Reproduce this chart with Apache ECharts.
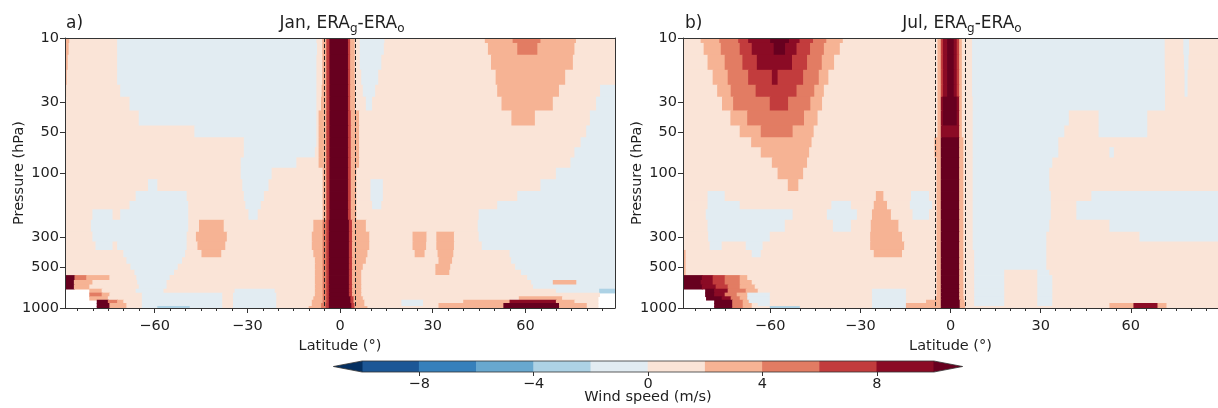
<!DOCTYPE html>
<html><head><meta charset="utf-8">
<script src="https://cdn.jsdelivr.net/npm/echarts@6/dist/echarts.min.js"></script>
<style>html,body{margin:0;padding:0;background:#fff}#c{width:1218px;height:408px}</style>
</head><body><div id="c"></div>
<script>
// ---------------- data ----------------
const pressureLevels = [10,12,15,20,25,30,40,50,60,70,85,100,125,150,175,200,250,300,350,400,450,500,550,600,650,700,750,800,850,900,950,1000];
// each row: "value:untilLatitude" runs from -89 to 89 (W = no data)
const janRows = [
"3:-87.5 1:-72 -1:-7.5 1:-5.6 3:-4.3 7:-3.3 11:2.7 7:3.4 3:4.9 1:6.5 -1:14.5 1:47 3:56 5:65 3:76.5 1:89",
"3:-87.7 1:-72 -1:-7.3 1:-5.6 3:-4.3 7:-3.3 11:2.7 7:3.4 3:4.9 1:6.5 -1:14.3 1:48 3:57.5 5:64 3:76 1:89",
"3:-88 1:-72 -1:-7.5 1:-5.6 3:-4.3 7:-3.3 11:2.7 7:3.4 3:4.9 1:6.5 -1:13.5 1:49 3:75.5 1:89",
"3:-88.3 1:-72 -1:-7.5 1:-5.6 3:-4.3 7:-3.3 11:2.7 7:3.4 3:4.9 1:7 -1:12.5 1:50.5 3:73 1:89",
"3:-88.5 1:-71 -1:-7.5 1:-5.8 3:-4.3 7:-3.3 11:2.7 7:3.4 3:5 1:7.5 -1:11.5 1:51 3:71 1:84.3 -1:89",
"1:-68 -1:-7.5 1:-6 3:-4.3 7:-3.3 11:2.7 7:3.4 3:5 1:8.5 -1:10.5 1:52.4 3:69 1:83 -1:89",
"1:-65 -1:-7.5 1:-6.8 3:-4.3 7:-3.3 11:2.7 7:3.6 3:6.3 1:55.6 3:63.2 1:81 -1:89",
"1:-47 -1:-7.5 1:-6.8 3:-4.3 7:-3.3 11:2.7 7:3.6 3:6.3 1:79.8 -1:89",
"1:-31 -1:-7.5 1:-6.8 3:-4.3 7:-3.3 11:2.7 7:3.6 3:6.3 1:78 -1:89",
"1:-31 -1:-8 1:-6.8 3:-4.3 7:-3.3 11:2.7 7:3.6 3:6.3 1:76 -1:89",
"1:-32 -1:-14 1:-6.8 3:-4.3 7:-3.3 11:2.7 7:3.6 3:6.3 1:74.7 -1:89",
"1:-32 -1:-22 1:-5.5 3:-4.3 7:-3.3 11:2.7 7:3.6 3:5.4 1:70 -1:89",
"1:-62 -1:-59 1:-31.5 -1:-23 1:-5.5 3:-4.3 7:-3.3 11:2.7 7:3.6 3:5.4 1:10 -1:14 1:65 -1:89",
"1:-66 -1:-49.5 1:-31 -1:-24.5 1:-5.5 3:-4.3 7:-3.3 11:2.7 7:3.6 3:5.4 1:10 -1:14 1:57.5 -1:89",
"1:-68 -1:-49 1:-30.5 -1:-25.5 1:-5.5 3:-4.3 7:-3.3 11:2.7 7:3.6 3:5.4 1:10.5 -1:13.5 1:51 -1:89",
"1:-80 -1:-73.5 1:-71 -1:-49 1:-29.5 -1:-26.5 1:-5.5 3:-4.3 7:-3.3 11:2.7 7:3.6 3:5.4 1:45 -1:89",
"1:-80.5 -1:-49 1:-45.5 3:-37.5 1:-8.5 3:-5.5 5:-4.3 7:-3.5 11:3 7:4 3:8.5 1:44.7 -1:89",
"1:-80 -1:-49.5 1:-46.5 3:-36.5 1:-9 3:-5.5 5:-4.3 7:-3.5 11:3 7:4 3:9.6 1:23.6 3:28.1 1:31.3 3:37 1:45 -1:89",
"1:-79 -1:-73.5 1:-72 -1:-49.5 1:-46 3:-37 1:-9 3:-5.5 5:-4.3 7:-3.5 11:3 7:4 3:9.6 1:23.6 3:28 1:31.3 3:37 1:46 -1:89",
"1:-70 -1:-50 1:-44.7 3:-38.3 1:-8.5 3:-5.5 5:-4.3 7:-3.5 11:3 7:4 3:9 1:24.3 3:27.5 1:31.7 3:36.8 1:55 -1:89",
"1:-69 -1:-51 1:-8 3:-5.5 5:-4.3 7:-3.5 11:3 7:4 3:8.5 1:32 3:36.4 1:55.5 -1:89",
"1:-67.7 -1:-52.4 1:-8 3:-5.5 5:-4.3 7:-3.5 11:3 7:4 3:7.5 1:31 3:35.8 1:56.8 -1:89",
"1:-66.4 -1:-53.6 1:-8 3:-5.5 5:-4.3 7:-3.5 11:3 7:4 3:7 1:31 3:35.5 1:58.7 -1:89",
"11:-85.8 5:-82 3:-74.5 1:-65.8 -1:-55 1:-8 3:-5.5 5:-4.3 7:-3.5 11:3 7:4 3:7 1:60.7 -1:89",
"11:-86 3:-80 1:-65.5 -1:-56 1:-8 3:-5.5 5:-4.3 7:-3.5 11:3 7:4 3:7 1:62 -1:69 3:76.6 -1:89",
"11:-86 3:-81 1:-65 -1:-56 1:-8 3:-5.5 5:-4.3 7:-3.5 11:3 7:4 3:7 1:62.6 -1:89",
"W:-81 3:-77 1:-66 -1:-57 1:-34 -1:-21 1:-8 3:-5.5 5:-4.3 7:-3.5 11:3 7:4 3:7 1:70 -1:84 -3:89",
"W:-81 5:-77 3:-74.5 1:-64 -1:-38 1:-34.5 -1:-20.5 1:-8 3:-5.5 5:-4.3 7:-3.5 11:3 7:4 3:7 1:84 W:89",
"W:-81 3:-75 1:-64 -1:-38 1:-34.5 -1:-20.5 1:-8.5 3:-5.5 5:-4.3 7:-3.5 11:3.5 7:4.5 3:7.5 1:58 3:72 1:83.5 W:89",
"W:-78.6 11:-75 5:-72 3:-70 1:-64 -1:-38 1:-34.5 -1:-20.5 1:-9 3:-5.5 5:-4.3 7:-3.5 11:3.5 7:4.5 3:8 1:20 -1:27 1:40 3:55 9:70 3:76 1:83.5 W:89",
"W:-78.6 11:-74.5 3:-69 1:-64 -1:-38 1:-34.5 -1:-20.5 1:-9 3:-6 5:-4.5 7:-3.5 11:3.8 7:4.8 3:8 1:20 -1:27 1:32 3:53 11:71 3:80 1:83.5 W:89",
"W:-78.6 11:-74.5 3:-69 1:-64 -1:-59 -3:-48.5 -1:-38 1:-34.5 -1:-20.5 1:-10 3:-6 5:-4.5 7:-3.5 11:3.8 7:4.8 3:9 1:32 3:53 11:71 3:80 1:83.5 W:89"
];
const julRows = [
"1:-83 3:-76.8 5:-70.5 7:-67.2 9:-59.9 11:-53.6 9:-50.1 7:-45.6 5:-41.2 3:-35.7 1:-4.2 3:-3.1 7:-2.4 9:-1 11:1.2 9:2.2 7:3 3:3.9 1:7.3 -1:71.4 1:77.6 -1:79.5 1:89",
"1:-82 3:-76.3 5:-70 7:-66 9:-58.7 11:-54.9 9:-51.1 7:-46.6 5:-42 3:-36.7 1:-4.2 3:-3.1 7:-2.4 9:-1 11:1.2 9:2.2 7:3 3:3.9 1:7.3 -1:71.4 1:77.6 -1:79.5 1:89",
"1:-80.7 3:-75 5:-69.1 7:-64.3 9:-52.6 7:-47.6 5:-42.7 3:-38.6 1:-4.2 3:-3.1 7:-2.4 9:-1 11:1.2 9:2.2 7:3 3:3.9 1:7.3 -1:71.4 1:77.8 -1:79.3 1:89",
"1:-79 3:-74 5:-67.2 7:-59.3 9:-57.4 7:-48.9 5:-43.7 3:-40.5 1:-4.2 3:-3.1 7:-2.4 9:-1 11:1.2 9:2.2 7:3 3:3.9 1:7.3 -1:71.5 1:78 -1:79 1:89",
"1:-77.5 3:-73 5:-64.7 7:-51.1 5:-45.2 3:-42 1:-4.2 3:-3.1 7:-2.4 9:-1 11:1.2 9:2.2 7:3 3:3.9 1:7.3 -1:71.5 1:78 -1:79 1:89",
"1:-75.9 3:-72.2 5:-60 7:-53.9 5:-46.5 3:-42.6 1:-4.2 3:-3.1 9:-2.4 11:2.2 9:3 3:3.9 1:7.5 -1:71.5 1:89",
"1:-73.1 3:-67.5 5:-48.6 3:-44.1 1:-4.2 3:-3.1 9:-2.4 11:2.2 9:3 3:3.9 1:7.5 -1:39.5 1:49.4 -1:65.6 1:89",
"1:-70 3:-63 5:-52.4 3:-45.4 1:-4.2 3:-3.1 9:3 3:3.9 1:7.5 -1:38 1:49.4 -1:65.6 1:89",
"1:-66.2 3:-46.1 1:-5.2 3:-3.1 11:3 3:4.4 1:7.5 -1:36 1:89",
"1:-63 3:-46.9 1:-5.2 3:-3.1 11:3 3:4.4 1:7.5 -1:36 1:53 -1:54.5 1:89",
"1:-59.3 3:-47.6 1:-4.5 3:-3.1 11:3 3:4.4 1:7.5 -1:34 1:89",
"1:-57.4 3:-48.9 1:-4.5 3:-3.1 11:3 3:4.4 1:7.5 -1:33 1:89",
"1:-54 3:-50.5 1:-4.5 3:-3.1 11:3 3:4.4 1:7.5 -1:33 1:89",
"1:-80.7 -1:-75 1:-24.7 3:-22.2 1:-13 -1:-7 1:-4.5 3:-3.1 11:3 3:4.4 1:7.5 -1:33.5 1:47 -1:89",
"1:-80.7 -1:-70 1:-39.5 -1:-33 1:-25.4 3:-21 1:-13.4 -1:-6 1:-4.5 3:-3.1 11:3 3:4.4 1:7.5 -1:33.5 1:42 -1:89",
"1:-81.3 -1:-52.4 1:-41 -1:-31 1:-26 3:-19.7 1:-12.5 -1:-7 1:-4.5 3:-3.1 11:3 3:4.4 1:7.5 -1:33.5 1:42 -1:89",
"1:-80.7 -1:-55 1:-39 -1:-33 1:-26.4 3:-17.2 1:-4.5 3:-3.1 11:3 3:4.4 1:7.5 -1:33 1:53 -1:89",
"1:-80.5 -1:-60 1:-26.6 3:-16 1:-4.5 3:-3.1 11:3 3:4.4 1:7.5 -1:32 1:63 -1:89",
"1:-80 -1:-76 1:-68 -1:-62.4 1:-26.6 3:-15.3 1:-4.5 3:-3.1 11:3 3:4.4 1:7.5 -1:32 1:89",
"3:-88 1:-66 -1:-63 1:-25.4 3:-16 1:-4.5 3:-3.1 11:3 3:4.4 1:8 -1:32 1:89",
"3:-88 1:-4.5 3:-3.1 11:3 3:4.4 1:8 -1:32 1:89",
"3:-88 1:-4.5 3:-3.1 11:3 3:4.4 1:8 -1:32 1:89",
"3:-88 1:-4.5 3:-3.1 11:3 3:4.4 1:8 -1:18 1:29 -1:33 1:89",
"11:-82.6 9:-79 7:-75 5:-70 3:-67.5 1:-4.5 3:-3.1 11:3 3:4.4 1:8 -1:18 1:29 -1:34 1:89",
"11:-83 9:-79 7:-75 5:-70 3:-66 1:-4.5 3:-3.1 11:3 3:4.4 1:8 -1:18 1:29 -1:34 1:89",
"11:-82.6 9:-78 7:-74 5:-70 3:-65 1:-4.5 3:-3.1 11:3 3:4.4 1:8 -1:18 1:29 -1:34 1:89",
"W:-81.5 11:-78.5 9:-74 5:-68 3:-64 1:-26 -1:-14.7 1:-4.5 3:-3.1 11:3 3:4.4 1:8 -1:18 1:29 -1:34 1:89",
"W:-81.5 11:-78.5 9:-75 5:-71 3:-67.5 -1:-60 1:-26 -1:-14.7 1:-4.5 3:-3.1 11:3 3:4.4 1:8 -1:18 1:29 -1:34 1:89",
"W:-81.2 11:-76 9:-73 5:-70 3:-67.5 -1:-60 1:-26 -1:-14.7 1:-4.8 3:-3.1 11:3 3:4.5 1:8 -1:18 1:29 -1:34 1:89",
"W:-78.5 11:-72.5 5:-69 3:-67 -1:-60 1:-26 -1:-14.7 1:-8 3:-3.1 11:3.2 3:4.8 1:8 -1:18 1:29 -1:34 1:89",
"W:-78.5 11:-72.5 5:-69 3:-66 1:-64 -1:-60 1:-26 -1:-14.7 3:-3.1 11:3.2 3:5 1:8 -1:18 1:29 -1:34 1:53 3:61 9:69 3:72 1:89",
"W:-78.5 11:-72.5 5:-69 3:-66 1:-60 -3:-50 1:-26 -1:-14.7 3:-3.1 11:3.2 3:5 1:53 3:61 9:69 3:72 1:89"
];
const colorLevels = [-10,-8,-6,-4,-2,0,2,4,6,8,10];
const binColors = ['#1c5796','#3680bb','#68a8cf','#add2e5','#e2ecf2','#fae4d7','#f6b394','#e27c63','#c23c3d','#8b0b25'];
const underColor = '#053061', overColor = '#67001f';
const xTicks = [-60,-30,0,30,60];
const xMinorTicks = [-85,-80,-75,-70,-65,-55,-50,-45,-40,-35,-25,-20,-15,-10,-5,5,10,15,20,25,35,40,45,50,55,65,70,75,80,85];
const yTicks = [10,30,50,100,300,500,1000];
const cbTicks = [-8,-4,0,4,8];
const dashLats = [-5,5];
const latRange = [-89, 89];

// ---------------- helpers ----------------
const FONT = 'DejaVu Sans';
const TXT = '#1f1f1f', AX = '#333';
const FS = 14.5;
function parseRow(str) {
  const segs = []; let start = latRange[0];
  str.trim().split(/\s+/).forEach(tok => {
    const i = tok.lastIndexOf(':');
    const v = tok.slice(0, i), end = parseFloat(tok.slice(i + 1));
    if (v !== 'W') segs.push([start, end, Number(v)]);
    start = end;
  });
  return segs;
}
function buildField(rows) {
  const logs = pressureLevels.map(p => Math.log10(p));
  const n = logs.length, out = [];
  rows.forEach((r, k) => {
    const top = k === 0 ? logs[0] : (logs[k - 1] + logs[k]) / 2;
    const bot = k === n - 1 ? logs[n - 1] : (logs[k] + logs[k + 1]) / 2;
    parseRow(r).forEach(s => out.push([s[0], s[1], top, bot, s[2]]));
  });
  return out;
}
function renderCell(params, api) {
  const a = api.coord([api.value(0), api.value(2)]);
  const b = api.coord([api.value(1), api.value(3)]);
  const x = Math.min(a[0], b[0]), y = Math.min(a[1], b[1]);
  return { type: 'rect', shape: { x: x - 0.4, y: y - 0.4, width: Math.abs(b[0] - a[0]) + 0.8, height: Math.abs(b[1] - a[1]) + 0.8 },
           style: { fill: api.visual('color') } };
}
const minus = v => (v < 0 ? '\u2212' + Math.abs(v) : String(v));
const yLog = yTicks.map(v => Math.log10(v));

const grids = [
  { left: 65, top: 38, width: 550, height: 270 },
  { left: 683, top: 38, width: 550, height: 270 },
  { left: 362, top: 361, width: 572, height: 11 }
];
const xAxes = [], yAxes = [];
[0, 1].forEach(g => {
  xAxes.push({ gridIndex: g, type: 'value', min: latRange[0], max: latRange[1], position: 'bottom', z: 10,
    axisLine: { show: true, onZero: false, lineStyle: { color: AX, width: 1 } },
    axisTick: { show: true, customValues: xTicks, length: 5, lineStyle: { color: AX } },
    axisLabel: { customValues: xTicks, formatter: minus, fontSize: FS, color: TXT, fontFamily: FONT, margin: 11 },
    splitLine: { show: false },
    name: 'Latitude (\u00b0)', nameLocation: 'middle', nameGap: 31, nameMoveOverlap: false,
    nameTextStyle: { fontSize: FS, color: TXT, fontFamily: FONT } });
  xAxes.push({ gridIndex: g, type: 'value', min: latRange[0], max: latRange[1], position: 'bottom', z: 10,
    axisLine: { show: false }, axisTick: { show: true, customValues: xMinorTicks, length: 3, lineStyle: { color: AX } },
    axisLabel: { show: false }, splitLine: { show: false } });
  xAxes.push({ gridIndex: g, type: 'value', min: latRange[0], max: latRange[1], position: 'top', z: 10,
    axisLine: { show: true, onZero: false, lineStyle: { color: AX, width: 1 } },
    axisTick: { show: false }, axisLabel: { show: false }, splitLine: { show: false } });
  yAxes.push({ gridIndex: g, type: 'value', min: 1, max: 3, inverse: true, position: 'left', z: 10,
    axisLine: { show: true, onZero: false, lineStyle: { color: AX, width: 1 } },
    axisTick: { show: true, customValues: yLog, length: 5, lineStyle: { color: AX } },
    axisLabel: { customValues: yLog, formatter: v => String(Math.round(Math.pow(10, v))), fontSize: FS, color: TXT, fontFamily: FONT, margin: 6 },
    splitLine: { show: false },
    name: 'Pressure (hPa)', nameLocation: 'middle', nameGap: 38, nameRotate: 90, nameMoveOverlap: false,
    nameTextStyle: { fontSize: FS, color: TXT, fontFamily: FONT } });
  yAxes.push({ gridIndex: g, type: 'value', min: 1, max: 3, inverse: true, position: 'right', z: 10,
    axisLine: { show: true, onZero: false, lineStyle: { color: AX, width: 1 } },
    axisTick: { show: false }, axisLabel: { show: false }, splitLine: { show: false } });
});
// colorbar axes
xAxes.push({ gridIndex: 2, type: 'value', min: colorLevels[0], max: colorLevels[colorLevels.length - 1], position: 'bottom', z: 10,
  axisLine: { show: false }, axisTick: { show: true, customValues: cbTicks, length: 4, lineStyle: { color: AX } },
  axisLabel: { customValues: cbTicks, formatter: minus, fontSize: FS, color: TXT, fontFamily: FONT, margin: 5 },
  splitLine: { show: false },
  name: 'Wind speed (m/s)', nameLocation: 'middle', nameGap: 18, nameMoveOverlap: false,
  nameTextStyle: { fontSize: FS, color: TXT, fontFamily: FONT } });
yAxes.push({ gridIndex: 2, type: 'value', min: 0, max: 1, show: false });

// colorbar data
const ext = 0.05 * (colorLevels[colorLevels.length - 1] - colorLevels[0]);
const cbData = [];
for (let i = 0; i < colorLevels.length - 1; i++) cbData.push([colorLevels[i], colorLevels[i + 1], 0, 0, (colorLevels[i] + colorLevels[i + 1]) / 2]);
const lo = colorLevels[0], hi = colorLevels[colorLevels.length - 1];
cbData.push([lo - ext, lo, 1, 0, lo - 1]);
cbData.push([hi, hi + ext, 2, 0, hi + 1]);
cbData.push([lo - ext, hi + ext, 3, 0, 0]);
function renderBar(params, api) {
  const kind = api.value(2);
  const a = api.coord([api.value(0), 1]), b = api.coord([api.value(1), 0]);
  const top = a[1], bot = b[1], mid = (top + bot) / 2, x0 = a[0], x1 = b[0];
  if (kind === 0) return { type: 'rect', shape: { x: x0 - 0.3, y: top, width: x1 - x0 + 0.6, height: bot - top }, style: { fill: api.visual('color') } };
  if (kind === 1) return { type: 'polygon', shape: { points: [[x1 + 0.5, top], [x1 + 0.5, bot], [x0, mid]] }, style: { fill: api.visual('color') } };
  if (kind === 2) return { type: 'polygon', shape: { points: [[x0 - 0.5, top], [x0 - 0.5, bot], [x1, mid]] }, style: { fill: api.visual('color') } };
  const L = api.coord([lo, 0])[0], R = api.coord([hi, 0])[0];
  return { type: 'polygon', z2: 10, shape: { points: [[x0, mid], [L, top], [R, top], [x1, mid], [R, bot], [L, bot]] },
           style: { fill: 'none', stroke: AX, lineWidth: 0.8 } };
}

const pieces = [{ lt: colorLevels[0], color: underColor }];
for (let i = 0; i < colorLevels.length - 1; i++) pieces.push({ gte: colorLevels[i], lt: colorLevels[i + 1], color: binColors[i] });
pieces.push({ gte: colorLevels[colorLevels.length - 1], color: overColor });

function fieldSeries(rows, xi, yi) {
  return { type: 'custom', xAxisIndex: xi, yAxisIndex: yi, data: buildField(rows), renderItem: renderCell, clip: true,
    encode: { x: [0, 1], y: [2, 3] }, silent: true, animation: false,
    markLine: { silent: true, symbol: 'none', animation: false, label: { show: false },
      lineStyle: { type: [4, 2], color: '#222', width: 1 },
      data: dashLats.map(v => ({ xAxis: v })) } };
}

const titleRich = {
  n: { fontSize: 17, fontFamily: FONT, fill: TXT, lineHeight: 20, verticalAlign: 'top' },
  s: { fontSize: 12, fontFamily: FONT, fill: TXT, lineHeight: 13, verticalAlign: 'bottom', padding: [10, 0, 0, 0] }
};
function titleText(x, label) {
  return { type: 'text', x: x, y: 25, style: { text: '{n|' + label + ', ERA}{s|g}{n|-ERA}{s|o}', rich: titleRich, align: 'center', verticalAlign: 'middle' } };
}
function panelLetter(x, t) {
  return { type: 'text', x: x, y: 24, style: { text: t, fontSize: 17, fontFamily: FONT, fill: TXT, align: 'left', verticalAlign: 'middle' } };
}

const chart = echarts.init(document.getElementById('c'), null, { renderer: 'canvas' });
chart.setOption({
  animation: false,
  backgroundColor: '#fff',
  grid: grids,
  xAxis: xAxes,
  yAxis: yAxes,
  visualMap: { type: 'piecewise', show: false, seriesIndex: [0, 1, 2], dimension: 4, pieces: pieces },
  graphic: [panelLetter(66, 'a)'), titleText(342, 'Jan'), panelLetter(685, 'b)'), titleText(962, 'Jul')],
  series: [
    fieldSeries(janRows, 0, 0),
    fieldSeries(julRows, 3, 2),
    { type: 'custom', xAxisIndex: 6, yAxisIndex: 4, data: cbData, renderItem: renderBar, clip: false, silent: true,
      encode: { x: [0, 1] }, animation: false }
  ]
});
</script></body></html>
